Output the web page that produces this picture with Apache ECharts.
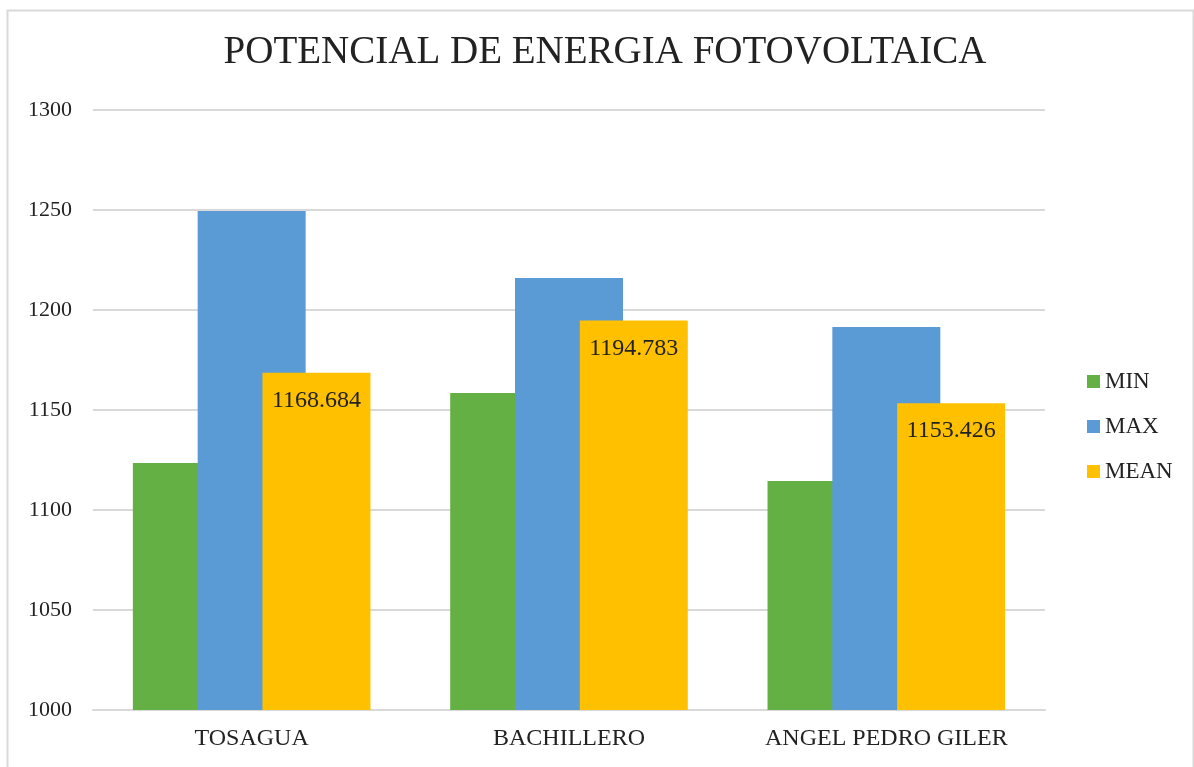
<!DOCTYPE html>
<html>
<head>
<meta charset="utf-8">
<script src="https://cdn.jsdelivr.net/npm/echarts@6/dist/echarts.min.js"></script>
<style>
  html, body { margin: 0; padding: 0; background: #ffffff; }
  #chart { width: 1194px; height: 767px; }
</style>
</head>
<body>
<div id="chart"></div>
<script>
// Photovoltaic energy potential per site
const categories = ['TOSAGUA', 'BACHILLERO', 'ANGEL PEDRO GILER'];
const minValues  = [1123.5, 1158.5, 1114.5];
const maxValues  = [1249.5, 1216.0, 1191.5];
const meanValues = [1168.684, 1194.783, 1153.426];
const seriesNames = ['MIN', 'MAX', 'MEAN'];
const yTicks = { min: 1000, max: 1300, step: 50 };

const FONT = 'Liberation Serif';
const TEXT = '#222222';

const chart = echarts.init(document.getElementById('chart'), null, { renderer: 'canvas' });

const barBase = {
  type: 'bar',
  barWidth: 108,
  barGap: '-40%',
  animation: false
};

chart.setOption({
  backgroundColor: '#ffffff',
  textStyle: { fontFamily: FONT, color: TEXT },
  title: {
    text: 'POTENCIAL DE ENERGIA FOTOVOLTAICA',
    left: 600,
    top: 28,
    textAlign: 'center',
    textStyle: { fontFamily: FONT, fontSize: 39, fontWeight: 'normal', color: TEXT }
  },
  graphic: [{
    type: 'rect',
    shape: { x: 7.5, y: 10.5, width: 1186, height: 800 },
    style: { fill: 'none', stroke: '#d9d9d9', lineWidth: 2 },
    silent: true,
    z: -1
  }],
  legend: {
    orient: 'vertical',
    left: 1082,
    top: 365,
    itemWidth: 13,
    itemHeight: 13,
    itemGap: 22,
    icon: 'rect',
    textStyle: { fontFamily: FONT, fontSize: 23, color: TEXT },
    data: seriesNames
  },
  grid: { left: 93, right: 149, top: 110, bottom: 57, containLabel: false },
  xAxis: {
    type: 'category',
    data: categories,
    axisLine: { lineStyle: { color: '#d9d9d9', width: 2 } },
    axisTick: { show: false },
    axisLabel: { fontFamily: FONT, fontSize: 24, color: TEXT, margin: 17 }
  },
  yAxis: {
    type: 'value',
    min: yTicks.min,
    max: yTicks.max,
    interval: yTicks.step,
    axisLine: { show: false },
    axisTick: { show: false },
    splitLine: { lineStyle: { color: '#d9d9d9', width: 2 } },
    axisLabel: {
      fontFamily: FONT, fontSize: 22, color: TEXT, margin: 21,
      formatter: v => String(v)
    }
  },
  series: [
    Object.assign({}, barBase, {
      name: seriesNames[0], data: minValues,
      itemStyle: { color: '#65B045' }
    }),
    Object.assign({}, barBase, {
      name: seriesNames[1], data: maxValues,
      itemStyle: { color: '#5B9BD5' }
    }),
    Object.assign({}, barBase, {
      name: seriesNames[2], data: meanValues,
      itemStyle: { color: '#FFC000' },
      label: {
        show: true,
        position: 'insideTop',
        distance: 16,
        fontFamily: FONT,
        fontSize: 24,
        color: TEXT,
        formatter: p => p.value.toFixed(3)
      }
    })
  ]
});
</script>
</body>
</html>
